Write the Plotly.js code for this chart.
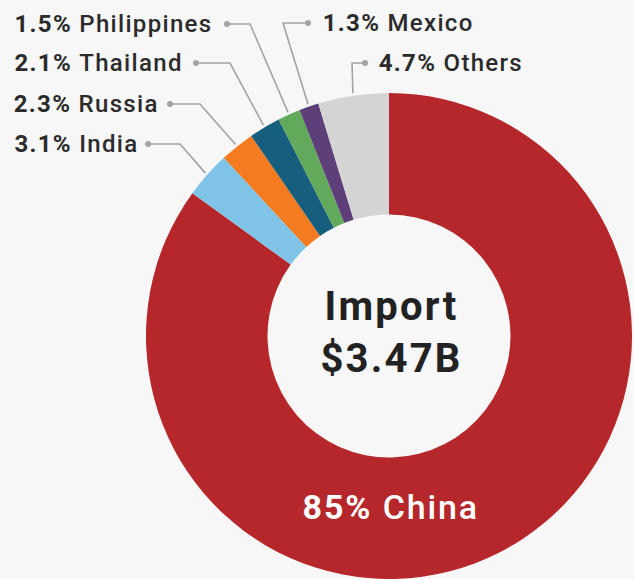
<!DOCTYPE html>
<html>
<head>
<meta charset="utf-8">
<script src="https://cdn.plot.ly/plotly-3.0.1.min.js"></script>
<style>
html,body{margin:0;padding:0;background:#f7f7f7;}
#chart{width:634px;height:579px;}
#chart .annotation-text{letter-spacing:0.055em;}
</style>
</head>
<body>
<div id="chart"></div>
<script>
// ---- data ----
const categories = ['China', 'India', 'Russia', 'Thailand', 'Philippines', 'Mexico', 'Others'];
const shares = [85, 3.1, 2.3, 2.1, 1.5, 1.3, 4.7];
const colors = ['#b5272a', '#7fc4e7', '#f47b20', '#165e7e', '#62a95c', '#5e3f79', '#d4d4d4'];
const centerLines = ['Import', '$3.47B'];

// ---- layout config (label placement, pixels) ----
const W = 634, H = 579;
const domainX = [144 / W, 1];
const domainY = [0, 486 / H];
const LABEL_SIZE = 24, SPACING = 0.055;
// per outside label: text x, row y, dot x, elbow x
const labelPos = {
  'India':       {tx: 12,  ty: 144, dot: 148, elbow: 180},
  'Russia':      {tx: 12,  ty: 104, dot: 170, elbow: 200},
  'Thailand':    {tx: 12,  ty: 63,  dot: 196, elbow: 230},
  'Philippines': {tx: 12,  ty: 24,  dot: 227, elbow: 250},
  'Mexico':      {tx: 321, ty: 23,  dot: 308, elbow: 283},
  'Others':      {tx: 377, ty: 63,  dot: 365, elbow: 352}
};

const px = x => x / W;
const py = y => 1 - y / H;

// pie geometry derived from domain
const cx = (domainX[0] + domainX[1]) / 2 * W;
const cy = H - (domainY[0] + domainY[1]) / 2 * H;
const R = Math.min((domainX[1] - domainX[0]) * W, (domainY[1] - domainY[0]) * H) / 2;

const total = shares.reduce((a, b) => a + b, 0);
const annotations = [];
const shapes = [];
let cum = 0;
categories.forEach((c, i) => {
  const mid = (cum + shares[i] / 2) / total * 2 * Math.PI;
  cum += shares[i];
  const lp = labelPos[c];
  if (!lp) return;
  const sx = cx + R * 1.01 * Math.sin(mid);
  const sy = cy - R * 1.01 * Math.cos(mid);
  shapes.push({
    type: 'path', xref: 'paper', yref: 'paper',
    path: `M ${px(sx)},${py(sy)} L ${px(lp.elbow)},${py(lp.ty)} L ${px(lp.dot)},${py(lp.ty)}`,
    line: {color: '#a3a3a3', width: 1.6}
  });
  shapes.push({
    type: 'circle', xref: 'paper', yref: 'paper',
    xsizemode: 'pixel', ysizemode: 'pixel',
    xanchor: px(lp.dot), yanchor: py(lp.ty),
    x0: -3, x1: 3, y0: -3, y1: 3,
    fillcolor: '#a3a3a3', line: {width: 0}
  });
  const plain = `${shares[i]}% ${c}`;
  const shift = SPACING * LABEL_SIZE * plain.length / 2; // letter-spacing widens text around its centre
  annotations.push({
    xref: 'paper', yref: 'paper', x: px(lp.tx + shift), y: py(lp.ty),
    xanchor: 'left', yanchor: 'middle', showarrow: false,
    text: `<b>${shares[i]}%</b> <span style="font-weight:500">${c}</span>`,
    font: {family: 'Roboto', size: LABEL_SIZE, color: '#2b2b2b'}
  });
});

// center text
annotations.push({
  xref: 'paper', yref: 'paper', x: px(cx + 2), y: py(cy - 4),
  xanchor: 'center', yanchor: 'middle', showarrow: false,
  text: `<b>${centerLines[0]}</b><br><b>${centerLines[1]}</b>`,
  font: {family: 'Roboto', size: 40, color: '#222222'}
});
// China inside label
annotations.push({
  xref: 'paper', yref: 'paper', x: px(cx + 2), y: py(cy + R * 0.705),
  xanchor: 'center', yanchor: 'middle', showarrow: false,
  text: `<b>${shares[0]}%</b> <span style="font-weight:500">${categories[0]}</span>`,
  font: {family: 'Roboto', size: 34, color: '#ffffff'}
});

const trace = {
  type: 'pie',
  labels: categories,
  values: shares,
  marker: {colors: colors, line: {width: 0}},
  hole: 0.5,
  sort: false,
  direction: 'clockwise',
  rotation: 0,
  textinfo: 'none',
  hoverinfo: 'label+percent',
  domain: {x: domainX, y: domainY},
  showlegend: false
};

Plotly.newPlot('chart', [trace], {
  width: W, height: H,
  margin: {l: 0, r: 0, t: 0, b: 0},
  paper_bgcolor: '#f7f7f7',
  plot_bgcolor: '#f7f7f7',
  showlegend: false,
  annotations: annotations,
  shapes: shapes
}, {displayModeBar: false, staticPlot: true});
</script>
</body>
</html>
